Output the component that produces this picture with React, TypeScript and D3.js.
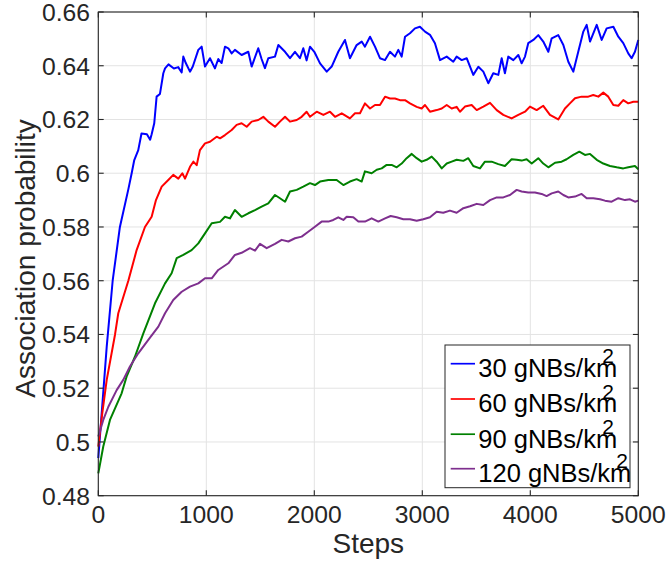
import React from "react";
import * as d3 from "d3";

// ---- data ----
const xTicks = [0, 1000, 2000, 3000, 4000, 5000];
const yTicks = [0.48, 0.5, 0.52, 0.54, 0.56, 0.58, 0.6, 0.62, 0.64, 0.66];
const yTickLabels = ["0.48", "0.5", "0.52", "0.54", "0.56", "0.58", "0.6", "0.62", "0.64", "0.66"];
const seriesNames = ["30 gNBs/km", "60 gNBs/km", "90 gNBs/km", "120 gNBs/km"];
const seriesColors = ["#0000ff", "#ff0000", "#008000", "#7e2f8e"];

const blue30: [number, number][] = [
  [0, 0.494], [78, 0.5355], [133, 0.56], [200, 0.58], [278, 0.594], [309, 0.6], [333, 0.6049],
  [370, 0.6086], [400, 0.6148], [450, 0.6145], [480, 0.6125], [494, 0.6145], [518, 0.6186],
  [540, 0.6285], [571, 0.6295], [602, 0.6372], [618, 0.639], [650, 0.6405], [700, 0.639],
  [740, 0.6395], [772, 0.6375], [787, 0.6434], [810, 0.641], [849, 0.6378], [875, 0.6397],
  [926, 0.6459], [957, 0.6471], [988, 0.6397], [1034, 0.6428], [1080, 0.639], [1111, 0.6425],
  [1142, 0.641], [1173, 0.6471], [1204, 0.6465], [1235, 0.6446], [1265, 0.6459], [1327, 0.644],
  [1389, 0.6452], [1420, 0.6397], [1481, 0.6465], [1512, 0.6425], [1543, 0.6391], [1574, 0.6428],
  [1636, 0.6434], [1667, 0.6477], [1729, 0.6452], [1775, 0.6428], [1821, 0.6452], [1867, 0.6428],
  [1898, 0.6465], [1929, 0.642], [1960, 0.6471], [2000, 0.6452], [2053, 0.6409], [2115, 0.6378],
  [2161, 0.6397], [2222, 0.6452], [2284, 0.6496], [2330, 0.6428], [2392, 0.6477], [2439, 0.649],
  [2469, 0.6471], [2516, 0.6508], [2562, 0.6471], [2608, 0.6428], [2655, 0.6421], [2701, 0.6452],
  [2747, 0.6434], [2778, 0.6459], [2809, 0.6434], [2840, 0.6508], [2886, 0.6521], [2932, 0.6539],
  [2978, 0.6545], [3025, 0.6527], [3071, 0.6515], [3117, 0.6484], [3164, 0.6421], [3226, 0.6434],
  [3287, 0.6415], [3318, 0.6434], [3365, 0.6421], [3411, 0.6428], [3472, 0.6366], [3519, 0.6396],
  [3565, 0.6378], [3611, 0.6335], [3657, 0.6372], [3704, 0.6366], [3735, 0.6428], [3765, 0.6372],
  [3796, 0.6434], [3843, 0.6421], [3889, 0.644], [3920, 0.6409], [3951, 0.6434], [3981, 0.6484],
  [4028, 0.6496], [4074, 0.6514], [4120, 0.649], [4167, 0.6452], [4198, 0.6502], [4259, 0.6514],
  [4306, 0.6477], [4352, 0.6415], [4398, 0.6378], [4444, 0.6452], [4491, 0.6527], [4522, 0.6552],
  [4553, 0.649], [4615, 0.6552], [4661, 0.6496], [4707, 0.6539], [4769, 0.6545], [4815, 0.6508],
  [4861, 0.6484], [4907, 0.6446], [4938, 0.6428], [4969, 0.6452], [5000, 0.6496],
];

const red60: [number, number][] = [
  [0, 0.4983], [37, 0.5107], [78, 0.5231], [155, 0.54], [185, 0.5479], [278, 0.56], [355, 0.5714],
  [432, 0.58], [494, 0.5838], [534, 0.59], [587, 0.595], [648, 0.5975], [694, 0.5994], [741, 0.598],
  [778, 0.6], [803, 0.598], [849, 0.6024], [880, 0.6043], [911, 0.603], [941, 0.6086], [988, 0.6111],
  [1034, 0.6117], [1096, 0.6136], [1127, 0.613], [1173, 0.6142], [1235, 0.6161], [1281, 0.618],
  [1327, 0.6186], [1374, 0.6173], [1420, 0.6192], [1481, 0.6198], [1528, 0.621], [1574, 0.6192],
  [1636, 0.6173], [1682, 0.6192], [1729, 0.621], [1775, 0.6192], [1837, 0.6198], [1883, 0.621],
  [1929, 0.6229], [1960, 0.621], [2022, 0.6229], [2084, 0.6217], [2145, 0.6229], [2192, 0.621],
  [2254, 0.6223], [2330, 0.6204], [2377, 0.6223], [2423, 0.6223], [2469, 0.626], [2516, 0.6241],
  [2562, 0.6254], [2608, 0.6254], [2655, 0.6285], [2701, 0.6278], [2747, 0.6278], [2793, 0.6272],
  [2840, 0.6272], [2886, 0.626], [2948, 0.6247], [2994, 0.6241], [3025, 0.6254], [3071, 0.6229],
  [3133, 0.6235], [3180, 0.6241], [3226, 0.6254], [3272, 0.6241], [3318, 0.6247], [3349, 0.6229],
  [3395, 0.6248], [3457, 0.6254], [3504, 0.6235], [3565, 0.6248], [3627, 0.6262], [3689, 0.6235],
  [3750, 0.6217], [3827, 0.6204], [3889, 0.6217], [3951, 0.6229], [3997, 0.6248], [4059, 0.6235],
  [4120, 0.6251], [4182, 0.6217], [4259, 0.62], [4321, 0.6241], [4367, 0.626], [4414, 0.6279],
  [4475, 0.6285], [4537, 0.6285], [4583, 0.6291], [4630, 0.6285], [4676, 0.63], [4722, 0.6285],
  [4769, 0.6254], [4815, 0.6251], [4861, 0.6272], [4907, 0.626], [4954, 0.6266], [5000, 0.6266],
];

const green90: [number, number][] = [
  [0, 0.4883], [46, 0.4983], [108, 0.5082], [216, 0.5181], [262, 0.5243], [340, 0.5318],
  [417, 0.5404], [525, 0.5516], [618, 0.559], [679, 0.5628], [726, 0.5684], [787, 0.5696],
  [864, 0.5714], [926, 0.5739], [988, 0.5776], [1050, 0.5814], [1127, 0.5819], [1173, 0.5838],
  [1219, 0.5832], [1265, 0.5863], [1327, 0.5838], [1389, 0.5851], [1451, 0.5863], [1512, 0.5876],
  [1574, 0.5888], [1636, 0.5919], [1682, 0.5907], [1729, 0.5894], [1775, 0.5932], [1837, 0.5938],
  [1898, 0.595], [1960, 0.5963], [2006, 0.5956], [2053, 0.5969], [2130, 0.5975], [2207, 0.5975],
  [2269, 0.5956], [2330, 0.5969], [2392, 0.5978], [2439, 0.5969], [2469, 0.6007], [2531, 0.6],
  [2578, 0.6013], [2624, 0.6018], [2670, 0.6031], [2716, 0.6031], [2763, 0.6022], [2809, 0.6036],
  [2855, 0.6056], [2902, 0.6072], [2948, 0.6056], [2994, 0.6043], [3040, 0.605], [3087, 0.6062],
  [3133, 0.6043], [3180, 0.6018], [3226, 0.6036], [3272, 0.6043], [3318, 0.605], [3380, 0.6046],
  [3426, 0.6056], [3472, 0.6027], [3534, 0.6018], [3580, 0.6043], [3642, 0.6043], [3704, 0.6034],
  [3765, 0.6027], [3827, 0.6052], [3874, 0.605], [3920, 0.6047], [3966, 0.6052], [4013, 0.6036],
  [4074, 0.6056], [4120, 0.6036], [4167, 0.6022], [4229, 0.6039], [4290, 0.6043], [4336, 0.6052],
  [4398, 0.6068], [4454, 0.608], [4506, 0.6068], [4553, 0.6072], [4615, 0.605], [4676, 0.6036],
  [4738, 0.6027], [4800, 0.6022], [4861, 0.6018], [4907, 0.6022], [4969, 0.6027], [5000, 0.6015],
];

const purple120: [number, number][] = [
  [0, 0.502], [46, 0.5082], [93, 0.5131], [170, 0.5193], [231, 0.5231], [293, 0.5281], [370, 0.533],
  [463, 0.538], [556, 0.5429], [618, 0.5479], [694, 0.5528], [772, 0.5559], [849, 0.5578],
  [926, 0.559], [988, 0.5609], [1050, 0.5609], [1111, 0.564], [1204, 0.5665], [1265, 0.5696],
  [1327, 0.5704], [1404, 0.5721], [1451, 0.5712], [1497, 0.5737], [1559, 0.5721], [1636, 0.5737],
  [1698, 0.5752], [1760, 0.5746], [1821, 0.5758], [1883, 0.5764], [1944, 0.5782], [2006, 0.5801],
  [2068, 0.582], [2130, 0.582], [2176, 0.5826], [2222, 0.5836], [2269, 0.5826], [2300, 0.5838],
  [2361, 0.5836], [2408, 0.582], [2469, 0.582], [2531, 0.5832], [2593, 0.582], [2655, 0.5832],
  [2707, 0.5841], [2763, 0.5836], [2824, 0.5829], [2886, 0.5829], [2948, 0.5823], [3009, 0.5829],
  [3071, 0.5836], [3133, 0.5857], [3194, 0.5853], [3256, 0.5861], [3318, 0.5853], [3380, 0.587],
  [3442, 0.5877], [3504, 0.5886], [3565, 0.5882], [3627, 0.59], [3689, 0.591], [3750, 0.591],
  [3812, 0.5919], [3874, 0.5938], [3920, 0.5932], [3981, 0.5928], [4043, 0.5928], [4105, 0.5923],
  [4151, 0.5915], [4198, 0.5925], [4259, 0.5932], [4306, 0.5919], [4352, 0.591], [4414, 0.5913],
  [4475, 0.5923], [4522, 0.5907], [4583, 0.5907], [4645, 0.5903], [4691, 0.5898], [4753, 0.5894],
  [4815, 0.5907], [4877, 0.59], [4923, 0.5903], [4969, 0.5894], [5000, 0.5898],
];

const allSeries = [blue30, red60, green90, purple120];

// ---- layout ----
const W = 666;
const H = 563;
const left = 98.3;
const right = 638.3;
const top = 12;
const bottom = 495.7;
const FONT = "'Liberation Sans', Arial, Helvetica, sans-serif";
const AX = "#262626";

export default function App() {
  const x = d3.scaleLinear().domain([0, 5000]).range([left, right]);
  const y = d3.scaleLinear().domain([0.48, 0.66]).range([bottom, top]);
  const line = d3
    .line<[number, number]>()
    .x((d) => x(d[0]))
    .y((d) => y(d[1]));
  const tl = 5.4;

  const legX = 445;
  const legY = 345;
  const legW = 185;
  const legH = 142.7;
  const rowBase = [377, 412.3, 447.5, 482];

  return (
    <svg
      width={W}
      height={H}
      style={{ position: "absolute", left: 0, top: 0, background: "#fff" }}
      fontFamily={FONT}
    >
      <rect x={0} y={0} width={W} height={H} fill="#fff" />
      {/* grid */}
      <g stroke="#e3e3e3" strokeWidth={1}>
        {xTicks.map((t) => (
          <line key={"gx" + t} x1={x(t)} x2={x(t)} y1={top} y2={bottom} />
        ))}
        {yTicks.map((t) => (
          <line key={"gy" + t} x1={left} x2={right} y1={y(t)} y2={y(t)} />
        ))}
      </g>
      {/* data */}
      <g fill="none" strokeWidth={2} strokeLinejoin="round">
        {allSeries.map((s, i) => (
          <path key={i} d={line(s) || ""} stroke={seriesColors[i]} />
        ))}
      </g>
      {/* box and ticks */}
      <rect x={left} y={top} width={right - left} height={bottom - top} fill="none" stroke={AX} strokeWidth={1.1} />
      <g stroke={AX} strokeWidth={1.1}>
        {xTicks.map((t) => (
          <g key={"tx" + t}>
            <line x1={x(t)} x2={x(t)} y1={bottom} y2={bottom - tl} />
            <line x1={x(t)} x2={x(t)} y1={top} y2={top + tl} />
          </g>
        ))}
        {yTicks.map((t) => (
          <g key={"ty" + t}>
            <line x1={left} x2={left + tl} y1={y(t)} y2={y(t)} />
            <line x1={right} x2={right - tl} y1={y(t)} y2={y(t)} />
          </g>
        ))}
      </g>
      {/* tick labels */}
      <g fill={AX} fontSize={24.7}>
        {xTicks.map((t) => (
          <text key={"lx" + t} x={x(t)} y={bottom + 27.5} textAnchor="middle">
            {String(t)}
          </text>
        ))}
        {yTicks.map((t, i) => (
          <text key={"ly" + t} x={90} y={y(t) + 8.8} textAnchor="end">
            {yTickLabels[i]}
          </text>
        ))}
      </g>
      {/* axis titles */}
      <text x={(left + right) / 2} y={553} textAnchor="middle" fontSize={28} fill={AX}>
        Steps
      </text>
      <text transform="translate(35,258.5) rotate(-90)" textAnchor="middle" fontSize={28} fill={AX}>
        Association probability
      </text>
      {/* legend */}
      <rect x={legX} y={legY} width={legW} height={legH} fill="#fff" stroke={AX} strokeWidth={1} />
      {seriesNames.map((n, i) => (
        <g key={"lg" + i}>
          <line x1={450.7} x2={475} y1={rowBase[i] - 13.3} y2={rowBase[i] - 13.3} stroke={seriesColors[i]} strokeWidth={1.7} />
          <text x={478.3} y={rowBase[i]} fontSize={25.5} fill="#000">
            {n}
            <tspan dx={-15} dy={-13.6} fontSize={21}>
              2
            </tspan>
          </text>
        </g>
      ))}
    </svg>
  );
}
